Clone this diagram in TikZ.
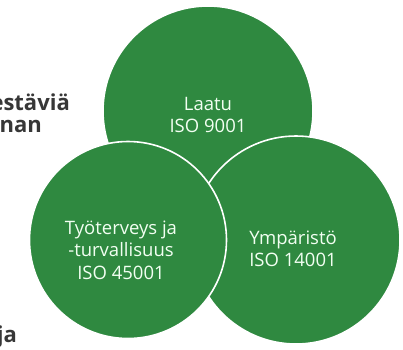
\documentclass[tikz,border=0pt]{standalone}
\usepackage{fontspec}
\setmainfont{Open Sans}
\definecolor{vgreen}{RGB}{47,137,64}
\definecolor{sidegray}{RGB}{55,55,55}
\begin{document}
\begin{tikzpicture}[x=1pt,y=-1pt,
  venn/.style={circle,fill=vgreen,draw=white,line width=1.6pt,inner sep=0pt},
  lbl/.style={text=white!95!green,align=center,font=\fontsize{18.5}{22.5}\selectfont},
  side/.style={text=sidegray,font=\fontsize{22}{26}\selectfont\bfseries,inner sep=0pt}]
\useasboundingbox (0,0) rectangle (403,349);
\clip (0,0) rectangle (403,349);
\fill[white] (0,0) rectangle (403,349);
\node[venn,minimum size=210pt] (top) at (208,111) {};
\node[venn,minimum size=208pt] (right) at (296,240) {};
\node[venn,minimum size=197pt] (left) at (128,240) {};
\node[lbl] (ttop) at (208,115) {Laatu\\ISO 9001};
\node[lbl] (tleft) at (121,250) {Työterveys ja\\-turvallisuus\\ISO 45001};
\node[lbl] (tright) at (293,249) {Ympäristö\\ISO 14001};
\node[side,anchor=base east] (s1) at (70,110) {estäviä};
\node[side,anchor=base east] (s2) at (42,132) {nan};
\node[side,anchor=base east] (s3) at (17,342) {ja};
\end{tikzpicture}
\end{document}
